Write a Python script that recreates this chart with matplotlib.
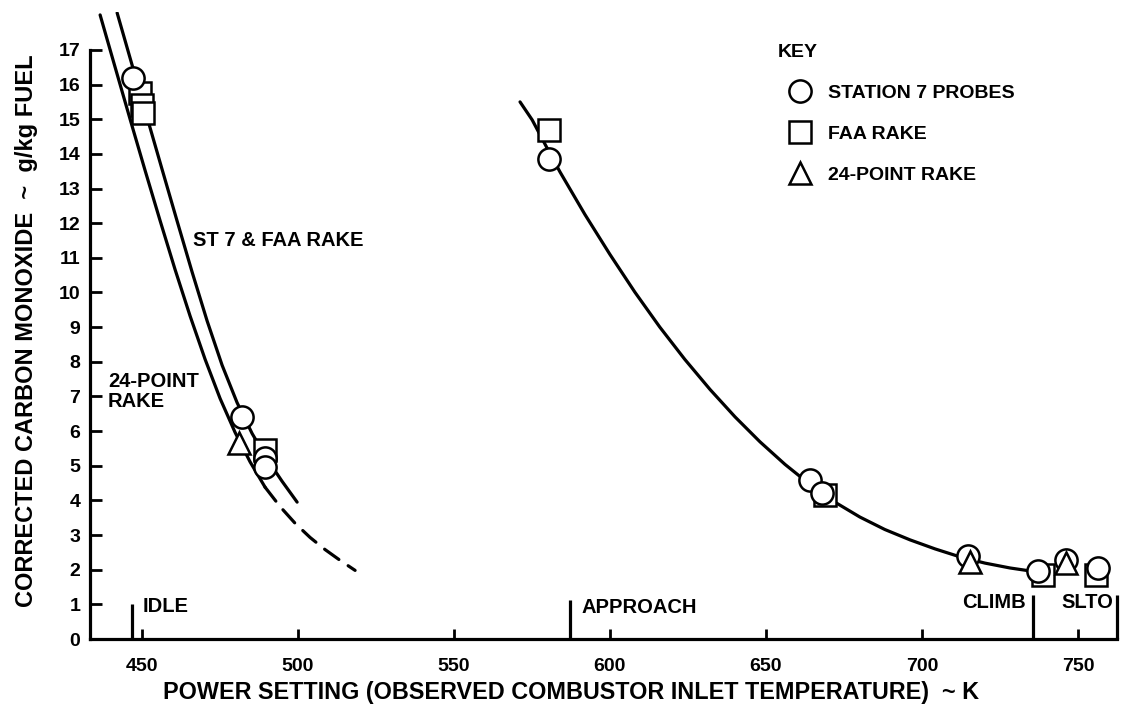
import matplotlib
matplotlib.use("Agg")
import matplotlib.pyplot as plt
from matplotlib.lines import Line2D

plt.rcParams["font.family"] = ["Liberation Sans", "DejaVu Sans"]
plt.rcParams["font.weight"] = "bold"

# --- measured points (combustor inlet temperature K, CO g/kg fuel) ---
st7_temp = [447.2, 482.1, 489.5, 489.5, 580.5, 664.1, 667.9, 714.8, 737.2, 746.3, 756.5]
st7_co = [16.19, 6.41, 5.22, 4.96, 13.85, 4.59, 4.21, 2.40, 1.96, 2.28, 2.05]

faa_temp = [449.5, 450.1, 450.4, 489.5, 580.5, 668.9, 738.8, 755.9]
faa_co = [15.76, 15.41, 15.18, 5.45, 14.69, 4.16, 1.85, 1.85]

rake24_temp = [481.2, 715.4, 746.3]
rake24_co = [5.66, 2.22, 2.19]

# --- faired curves ---
st7faa_curve_temp = [442.09, 446.90, 451.70, 456.51, 461.32, 466.12, 470.93,
                     475.74, 480.54, 485.35, 490.16, 494.96, 499.77]
st7faa_curve_co = [18.07, 16.56, 15.05, 13.55, 12.06, 10.59, 9.18,
                   7.90, 6.82, 5.93, 5.19, 4.55, 3.95]

rake24_curve_temp = [436.64, 441.45, 446.25, 451.06, 455.87, 460.67, 465.48,
                     470.29, 475.09, 479.90, 484.71, 489.51]
rake24_curve_co = [18.01, 16.50, 15.00, 13.52, 12.07, 10.66, 9.32,
                   8.07, 6.94, 5.96, 5.11, 4.38]

rake24_extrap_temp = [489.51, 494.32, 499.12, 503.93, 508.74, 513.54, 518.35]
rake24_extrap_co = [4.38, 3.82, 3.34, 2.93, 2.58, 2.27, 1.98]

high_curve_temp = [571.2, 575.1, 579.5, 584.0, 592.0, 600.0, 608.0, 616.0, 624.0,
                   632.1, 640.1, 648.1, 656.1, 664.1, 672.1, 680.1, 688.1, 696.2,
                   704.2, 712.2, 720.2, 728.2, 737.2]
high_curve_co = [15.50, 14.98, 14.23, 13.48, 12.25, 11.10, 10.01, 9.00, 8.07,
                 7.20, 6.41, 5.69, 5.04, 4.46, 3.95, 3.52, 3.16, 2.86,
                 2.60, 2.37, 2.19, 2.05, 1.93]

# --- power-setting markers on the temperature axis ---
mode_names = ["IDLE", "APPROACH", "CLIMB", "SLTO"]
mode_temp = [446.8, 587.2, 735.6, 762.4]
mode_height = [1.0, 1.13, 1.27, 1.27]

x_ticks = [450, 500, 550, 600, 650, 700, 750]
y_ticks = list(range(0, 18))

LW = 2.3
W, H = 1123, 716
fig = plt.figure(figsize=(W / 100, H / 100), dpi=100)
ax = fig.add_axes([90 / W, (H - 639) / H, (1117 - 90) / W, (639 - 11.8) / H])
ax.set_xlim(433.4, 762.5)
ax.set_ylim(0, 18.1)

for side in ("top", "right"):
    ax.spines[side].set_visible(False)
ax.spines["left"].set_bounds(0, 17)
ax.spines["left"].set_linewidth(LW)
ax.spines["bottom"].set_linewidth(LW)

ax.set_xticks(x_ticks)
ax.set_yticks(y_ticks)
ax.tick_params(axis="x", direction="in", length=7.5, width=2.0, pad=14, labelsize=14)
ax.tick_params(axis="y", direction="in", length=8.5, width=2.0, pad=7, labelsize=14)

# curves
ax.plot(st7faa_curve_temp, st7faa_curve_co, color="black", lw=LW, solid_capstyle="round",
        solid_joinstyle="round", zorder=2)
ax.plot(rake24_curve_temp, rake24_curve_co, color="black", lw=LW, solid_capstyle="round",
        solid_joinstyle="round", zorder=2)
ax.plot(rake24_extrap_temp, rake24_extrap_co, color="black", lw=LW, ls=(0, (5.5, 3.5)),
        dash_capstyle="round", zorder=2)
ax.plot(high_curve_temp, high_curve_co, color="black", lw=LW, solid_capstyle="round",
        solid_joinstyle="round", zorder=2)

mk = dict(ls="none", markerfacecolor="white", markeredgecolor="black", markeredgewidth=1.8,
          markersize=16)
ax.plot(faa_temp, faa_co, marker="s", zorder=3, **mk)
ax.plot(st7_temp, st7_co, marker="o", zorder=4, **mk)
ax.plot(rake24_temp, rake24_co, marker="^", zorder=5, **mk)

# power-setting bars
for t, h in zip(mode_temp, mode_height):
    ax.plot([t, t], [0, h], color="black", lw=LW, solid_capstyle="butt", zorder=2, clip_on=False)

txt = dict(fontsize=14.5, fontweight="bold", va="center")
ax.text(450.4, 0.95, mode_names[0], ha="left", **txt)
ax.text(590.8, 0.92, mode_names[1], ha="left", **txt)
ax.text(733.4, 1.04, mode_names[2], ha="right", **txt)
ax.text(744.8, 1.04, mode_names[3], ha="left", **txt)

ax.text(466.4, 11.5, "ST 7 & FAA RAKE", ha="left", **txt)
ax.text(439.2, 7.14, "24-POINT\nRAKE", ha="left", linespacing=1.05, **txt)

# key
handles = [
    Line2D([], [], marker="o", **mk),
    Line2D([], [], marker="s", **mk),
    Line2D([], [], marker="^", **mk),
]
leg = ax.legend(handles, ["STATION 7 PROBES", "FAA RAKE", "24-POINT RAKE"],
                title="KEY", loc="upper left",
                bbox_to_anchor=(778 / W, 1 - 44 / H), bbox_transform=fig.transFigure,
                frameon=False, borderpad=0, borderaxespad=0,
                handlelength=2.3, handletextpad=0.25, labelspacing=1.2,
                prop={"size": 14, "weight": "bold"},
                title_fontproperties={"size": 14, "weight": "bold"},
                alignment="left")

fig.text(571 / W, 1 - 693 / H, "POWER SETTING (OBSERVED COMBUSTOR INLET TEMPERATURE)  ~ K",
         ha="center", va="center", fontsize=16.8, fontweight="bold")
fig.text(27 / W, 1 - 331 / H, "CORRECTED CARBON MONOXIDE  ~  g/kg FUEL",
         ha="center", va="center", rotation=90, fontsize=17, fontweight="bold")

fig.savefig("out.png", dpi=100)
